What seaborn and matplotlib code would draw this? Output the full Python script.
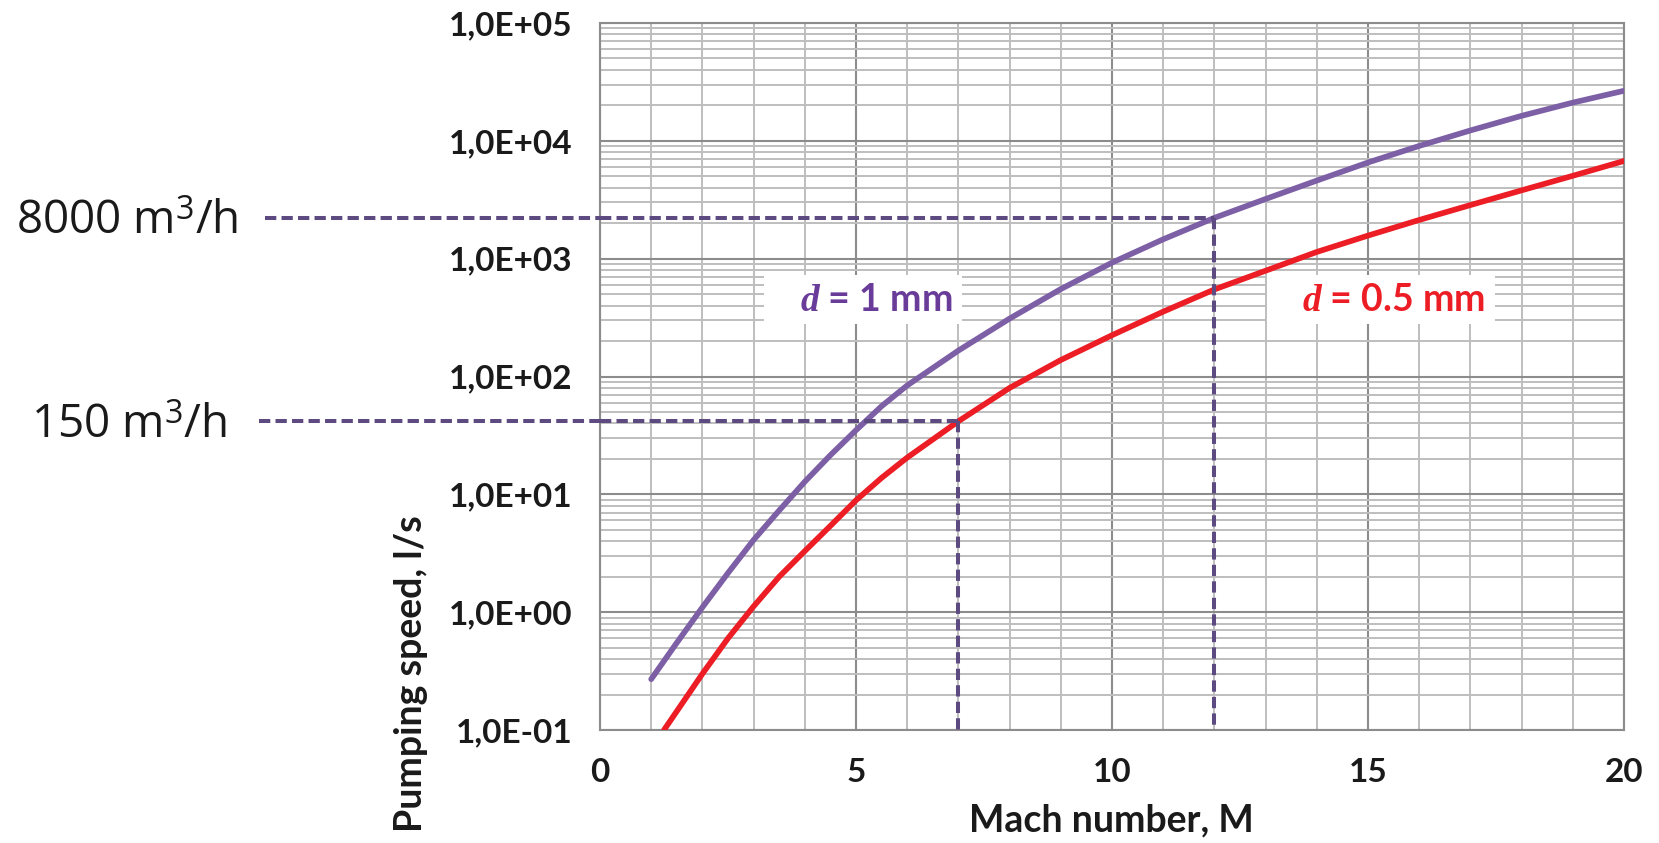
import numpy as np
import pandas as pd
import matplotlib
matplotlib.use("Agg")
import matplotlib.pyplot as plt
import matplotlib.transforms as mtransforms
from matplotlib.ticker import LogLocator, MultipleLocator, FixedLocator
import seaborn as sns

# ---- data ----
mach_1mm = [1, 1.5, 2, 2.5, 3, 3.5, 4, 4.5, 5, 5.5, 6, 7, 8, 9, 10, 11, 12, 13,
            14, 15, 16, 17, 18, 19, 20]
speed_1mm = [0.27, 0.55, 1.1, 2.15, 4.1, 7.3, 12.8, 21.5, 35, 56, 84, 166, 310, 552,
             925, 1460, 2220, 3210, 4600, 6550, 9050, 12250, 16300, 21100, 26600]
mach_05mm = [1.25, 2, 2.5, 3, 3.5, 4, 4.5, 5, 5.5, 6, 7, 8, 9, 10, 11, 12, 13,
             14, 15, 16, 17, 18, 19, 20]
speed_05mm = [0.1, 0.3, 0.6, 1.12, 2.0, 3.3, 5.4, 8.9, 13.8, 20.5, 41.7, 80, 138,
              224, 355, 548, 790, 1140, 1570, 2130, 2850, 3800, 5050, 6750]
series_names = ["d = 1 mm", "d = 0.5 mm"]
ref_labels = ["8000 m$^3$/h", "150 m$^3$/h"]
ref_speed = [2222, 41.7]      # l/s
ref_mach = [12, 7]
y_ticks = [1e-1, 1e0, 1e1, 1e2, 1e3, 1e4, 1e5]
y_ticklabels = ["1,0E-01", "1,0E+00", "1,0E+01", "1,0E+02", "1,0E+03", "1,0E+04", "1,0E+05"]
x_ticks = [0, 5, 10, 15, 20]

df = pd.concat([
    pd.DataFrame({"M": mach_1mm, "S": speed_1mm, "d": series_names[0]}),
    pd.DataFrame({"M": mach_05mm, "S": speed_05mm, "d": series_names[1]}),
])

sns.set_style("white")
plt.rcParams["font.family"] = ["Lato", "DejaVu Sans"]
plt.rcParams["mathtext.fontset"] = "custom"
plt.rcParams["mathtext.it"] = "Liberation Serif:italic:bold"
plt.rcParams["mathtext.rm"] = "Open Sans"

PURPLE = "#7D5FA6"
RED = "#EC1D25"
PURPLE_TXT = "#6A3C9A"
DASH = "#5C4A80"
MAJ = "#8C8C8C"
MIN = "#BEBEBE"
TXT = "#1a1a1a"

fig = plt.figure(figsize=(16.59, 8.43), dpi=100)
ax = fig.add_axes([600/1659, 1-730/843, 1024/1659, 707/843])

sns.lineplot(data=df, x="M", y="S", hue="d", palette=[PURPLE, RED], lw=4.1,
             legend=False, ax=ax, solid_capstyle="round", solid_joinstyle="round",
             zorder=5, sort=False)
ax.set_yscale("log")
ax.set_xlim(0, 20)
ax.set_ylim(1e-1, 1e5)

ax.yaxis.set_major_locator(FixedLocator(y_ticks))
ax.yaxis.set_minor_locator(LogLocator(base=10, subs=np.arange(2, 10)))
ax.set_yticklabels(y_ticklabels)
ax.xaxis.set_major_locator(FixedLocator(x_ticks))
ax.xaxis.set_minor_locator(MultipleLocator(1))

ax.grid(which="minor", color=MIN, lw=1.4, zorder=0)
ax.grid(which="major", color=MAJ, lw=1.5, zorder=1)
ax.set_axisbelow(True)
for s in ax.spines.values():
    s.set_color(MAJ)
    s.set_linewidth(1.5)

ax.tick_params(axis="both", which="major", length=8, width=1.5, color=MAJ,
               labelsize=24, labelcolor=TXT, direction="out")
ax.tick_params(axis="y", which="major", pad=12)
ax.tick_params(axis="x", which="major", pad=12)
ax.tick_params(which="minor", length=0)
for lab in ax.get_xticklabels() + ax.get_yticklabels():
    lab.set_fontweight("bold")
ax.set_xlabel("")
ax.set_ylabel("")

fig.text(1111/1659, 1-820/843, "Mach number, M", ha="center", va="center",
         fontsize=27, fontweight="bold", color=TXT)
fig.text(411/1659, 1-674/843, "Pumping speed, l/s", ha="center", va="center",
         rotation=90, fontsize=27, fontweight="bold", color=TXT)

# reference dashed lines
blend = mtransforms.blended_transform_factory(fig.transFigure, ax.transData)
starts = [265/1659, 259/1659]
text_right = [238/1659, 227/1659]
dash_style = (0, (2.8, 1.3))
for lab, sp, m, xs, xr in zip(ref_labels, ref_speed, ref_mach, starts, text_right):
    ax.plot([xs, 600/1659], [sp, sp], transform=blend, color=DASH, lw=2.9,
            ls=dash_style, clip_on=False, zorder=6, solid_capstyle="butt")
    ax.plot([0, m], [sp, sp], color=DASH, lw=2.9, ls=dash_style, zorder=6)
    ax.plot([m, m], [sp, 1e-1], color=DASH, lw=2.9, ls=dash_style, zorder=6)
    ax.annotate(lab, xy=(xr, sp), xycoords=blend, xytext=(0, -3),
                textcoords="offset points", ha="right", va="center", fontsize=33,
                color=TXT, fontfamily="Open Sans")

# curve labels
label_pos = [(5.14, 447), (15.25, 447)]
for name, col, (lx, ly) in zip(series_names, [PURPLE_TXT, RED], label_pos):
    ax.text(lx, ly, "\u2003" + r"$\mathit{d}$" + name[1:] + "\u2003", ha="center",
            va="center", fontsize=27, fontweight="bold", color=col, zorder=7,
            bbox=dict(boxstyle="square,pad=0.2", facecolor="white", edgecolor="none"))

fig.savefig("out.png", dpi=100)
